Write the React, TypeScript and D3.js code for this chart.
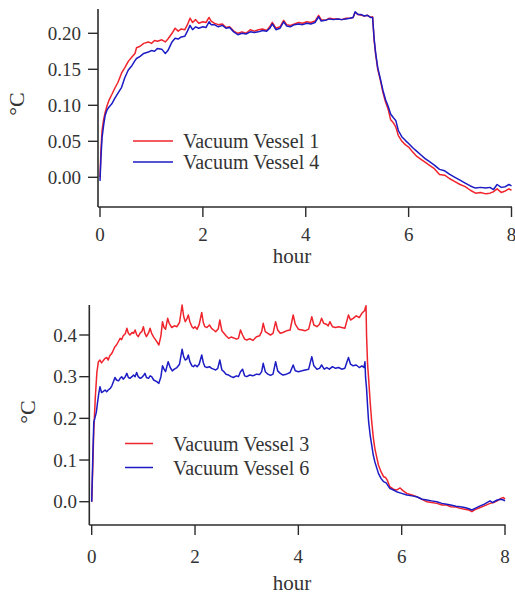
import React from "react";
import * as d3 from "d3";

// ---------- DATA ----------
const xTicks = [0, 2, 4, 6, 8];
const topYTicks = [0, 0.05, 0.1, 0.15, 0.2];
const bottomYTicks = [0, 0.1, 0.2, 0.3, 0.4];
const topLegend = ["Vacuum Vessel 1", "Vacuum Vessel 4"];
const bottomLegend = ["Vacuum Vessel 3", "Vacuum Vessel 6"];
const xLabel = "hour";
const yLabel = "°C";

// [hour, °C]
const vessel1: [number, number][] = [
  [0, 0], [0.02, 0.04], [0.04, 0.065], [0.07, 0.08], [0.1, 0.09], [0.14, 0.1], [0.18, 0.108], [0.23, 0.115],
  [0.29, 0.124], [0.35, 0.132], [0.42, 0.145], [0.48, 0.152], [0.55, 0.161], [0.62, 0.167], [0.68, 0.172],
  [0.71, 0.18], [0.78, 0.182], [0.85, 0.186], [0.94, 0.188], [1.0, 0.186], [1.06, 0.19], [1.12, 0.189],
  [1.2, 0.191], [1.27, 0.188], [1.32, 0.192], [1.4, 0.2], [1.46, 0.207], [1.52, 0.203], [1.58, 0.206],
  [1.65, 0.205], [1.7, 0.212], [1.75, 0.221], [1.8, 0.215], [1.86, 0.219], [1.92, 0.214], [2.0, 0.216],
  [2.06, 0.215], [2.12, 0.222], [2.16, 0.217], [2.22, 0.214], [2.3, 0.212], [2.38, 0.213], [2.45, 0.208],
  [2.52, 0.209], [2.6, 0.203], [2.68, 0.2], [2.76, 0.202], [2.84, 0.2], [2.92, 0.205], [3.0, 0.203],
  [3.08, 0.205], [3.16, 0.206], [3.24, 0.204], [3.3, 0.209], [3.35, 0.215], [3.42, 0.207], [3.5, 0.209],
  [3.57, 0.218], [3.63, 0.212], [3.7, 0.211], [3.78, 0.213], [3.86, 0.215], [3.94, 0.214], [4.02, 0.216],
  [4.1, 0.215], [4.18, 0.217], [4.25, 0.225], [4.3, 0.219], [4.38, 0.218], [4.46, 0.221], [4.54, 0.22],
  [4.62, 0.22], [4.7, 0.219], [4.78, 0.221], [4.86, 0.221], [4.92, 0.222], [4.96, 0.229], [5.02, 0.226],
  [5.08, 0.225], [5.14, 0.224], [5.2, 0.225], [5.26, 0.222], [5.3, 0.223], [5.33, 0.19], [5.36, 0.17],
  [5.4, 0.15], [5.45, 0.135], [5.5, 0.118], [5.55, 0.105], [5.6, 0.095], [5.65, 0.08], [5.7, 0.076],
  [5.75, 0.07], [5.8, 0.058], [5.87, 0.05], [5.94, 0.045], [6.0, 0.042], [6.08, 0.035], [6.16, 0.029],
  [6.24, 0.025], [6.32, 0.021], [6.4, 0.017], [6.5, 0.012], [6.6, 0.004], [6.7, 0.003], [6.8, -0.002],
  [6.9, -0.006], [7.0, -0.01], [7.1, -0.013], [7.2, -0.018], [7.3, -0.022], [7.4, -0.021], [7.5, -0.023],
  [7.58, -0.022], [7.65, -0.02], [7.72, -0.016], [7.8, -0.021], [7.88, -0.019], [7.95, -0.016], [8.0, -0.018],
];

const vessel4: [number, number][] = [
  [0, -0.005], [0.02, 0.03], [0.04, 0.055], [0.07, 0.072], [0.1, 0.086], [0.14, 0.094], [0.18, 0.098],
  [0.23, 0.102], [0.29, 0.11], [0.35, 0.117], [0.42, 0.125], [0.48, 0.138], [0.55, 0.149], [0.62, 0.155],
  [0.68, 0.162], [0.71, 0.165], [0.78, 0.168], [0.85, 0.172], [0.94, 0.174], [1.0, 0.176], [1.06, 0.175],
  [1.12, 0.179], [1.2, 0.178], [1.27, 0.172], [1.32, 0.176], [1.4, 0.188], [1.46, 0.193], [1.52, 0.192],
  [1.58, 0.195], [1.65, 0.196], [1.7, 0.203], [1.75, 0.211], [1.8, 0.205], [1.86, 0.209], [1.92, 0.207],
  [2.0, 0.209], [2.06, 0.208], [2.12, 0.216], [2.16, 0.212], [2.22, 0.212], [2.3, 0.209], [2.38, 0.211],
  [2.45, 0.207], [2.52, 0.208], [2.6, 0.202], [2.68, 0.198], [2.76, 0.2], [2.84, 0.199], [2.92, 0.202],
  [3.0, 0.201], [3.08, 0.202], [3.16, 0.204], [3.24, 0.203], [3.3, 0.207], [3.35, 0.213], [3.42, 0.205],
  [3.5, 0.207], [3.57, 0.216], [3.63, 0.21], [3.7, 0.209], [3.78, 0.212], [3.86, 0.213], [3.94, 0.212],
  [4.02, 0.214], [4.1, 0.213], [4.18, 0.215], [4.25, 0.223], [4.3, 0.217], [4.38, 0.218], [4.46, 0.22],
  [4.54, 0.219], [4.62, 0.22], [4.7, 0.219], [4.78, 0.22], [4.86, 0.221], [4.92, 0.222], [4.96, 0.23],
  [5.02, 0.226], [5.08, 0.226], [5.14, 0.224], [5.2, 0.225], [5.26, 0.222], [5.3, 0.222], [5.33, 0.192],
  [5.36, 0.172], [5.4, 0.152], [5.45, 0.137], [5.5, 0.121], [5.55, 0.108], [5.6, 0.099], [5.65, 0.088],
  [5.7, 0.083], [5.75, 0.079], [5.8, 0.065], [5.87, 0.056], [5.94, 0.051], [6.0, 0.047], [6.08, 0.041],
  [6.16, 0.036], [6.24, 0.031], [6.32, 0.026], [6.4, 0.022], [6.5, 0.017], [6.6, 0.011], [6.7, 0.009],
  [6.8, 0.004], [6.9, 0.0], [7.0, -0.004], [7.1, -0.008], [7.2, -0.012], [7.3, -0.015], [7.4, -0.014],
  [7.5, -0.015], [7.58, -0.014], [7.65, -0.017], [7.72, -0.01], [7.8, -0.014], [7.88, -0.013], [7.95, -0.01],
  [8.0, -0.012],
];

const vessel3: [number, number][] = [
  [0, 0], [0.02, 0.08], [0.04, 0.17], [0.07, 0.25], [0.1, 0.31], [0.13, 0.336], [0.16, 0.34], [0.19, 0.333],
  [0.22, 0.338], [0.26, 0.344], [0.29, 0.346], [0.32, 0.34], [0.35, 0.35], [0.39, 0.356], [0.42, 0.364],
  [0.45, 0.372], [0.48, 0.376], [0.52, 0.385], [0.55, 0.392], [0.58, 0.389], [0.61, 0.398], [0.65, 0.403],
  [0.68, 0.416], [0.71, 0.404], [0.74, 0.4], [0.78, 0.406], [0.81, 0.404], [0.84, 0.412], [0.87, 0.401],
  [0.9, 0.396], [0.94, 0.405], [0.97, 0.408], [1.0, 0.42], [1.03, 0.404], [1.06, 0.396], [1.1, 0.405],
  [1.13, 0.416], [1.16, 0.404], [1.2, 0.395], [1.26, 0.384], [1.3, 0.376], [1.34, 0.398], [1.37, 0.432],
  [1.4, 0.418], [1.43, 0.414], [1.47, 0.44], [1.5, 0.428], [1.55, 0.418], [1.6, 0.422], [1.65, 0.42],
  [1.7, 0.43], [1.75, 0.472], [1.78, 0.445], [1.81, 0.432], [1.84, 0.438], [1.87, 0.448], [1.9, 0.432],
  [1.94, 0.42], [1.97, 0.416], [2.0, 0.42], [2.04, 0.414], [2.08, 0.425], [2.13, 0.454], [2.16, 0.43],
  [2.19, 0.42], [2.23, 0.418], [2.28, 0.424], [2.32, 0.416], [2.36, 0.412], [2.4, 0.408], [2.45, 0.415],
  [2.48, 0.436], [2.52, 0.41], [2.56, 0.404], [2.6, 0.398], [2.65, 0.392], [2.7, 0.395], [2.75, 0.393],
  [2.8, 0.39], [2.84, 0.392], [2.88, 0.412], [2.92, 0.4], [2.96, 0.39], [3.0, 0.388], [3.06, 0.391],
  [3.12, 0.387], [3.19, 0.396], [3.25, 0.398], [3.29, 0.408], [3.32, 0.428], [3.36, 0.408], [3.41, 0.404],
  [3.46, 0.4], [3.51, 0.404], [3.56, 0.432], [3.6, 0.412], [3.65, 0.404], [3.7, 0.406], [3.77, 0.41],
  [3.84, 0.412], [3.9, 0.448], [3.94, 0.426], [4.0, 0.414], [4.07, 0.412], [4.13, 0.41], [4.2, 0.414],
  [4.26, 0.444], [4.3, 0.424], [4.36, 0.42], [4.41, 0.426], [4.45, 0.44], [4.49, 0.428], [4.54, 0.426],
  [4.58, 0.422], [4.61, 0.432], [4.66, 0.42], [4.72, 0.418], [4.78, 0.42], [4.84, 0.418], [4.9, 0.416],
  [4.97, 0.448], [5.01, 0.436], [5.06, 0.44], [5.12, 0.446], [5.18, 0.442], [5.23, 0.452], [5.28, 0.458],
  [5.31, 0.47], [5.32, 0.4], [5.34, 0.33], [5.36, 0.296], [5.39, 0.24], [5.42, 0.192], [5.45, 0.155],
  [5.48, 0.128], [5.52, 0.105], [5.55, 0.088], [5.6, 0.072], [5.65, 0.06], [5.69, 0.058], [5.72, 0.052],
  [5.77, 0.036], [5.84, 0.03], [5.9, 0.028], [5.97, 0.033], [6.03, 0.026], [6.1, 0.02], [6.2, 0.016],
  [6.29, 0.012], [6.4, 0.005], [6.49, 0.0], [6.58, -0.002], [6.68, -0.004], [6.78, -0.008], [6.87, -0.008],
  [6.95, -0.012], [7.05, -0.013], [7.13, -0.016], [7.22, -0.018], [7.3, -0.02], [7.36, -0.024], [7.42, -0.019],
  [7.52, -0.014], [7.6, -0.01], [7.71, -0.004], [7.78, -0.002], [7.85, 0.002], [7.92, 0.008], [7.97, 0.01],
  [8.0, 0.006],
];

const vessel6: [number, number][] = [
  [0, 0], [0.02, 0.1], [0.04, 0.19], [0.06, 0.2], [0.09, 0.215], [0.12, 0.245], [0.14, 0.262], [0.16, 0.276],
  [0.19, 0.262], [0.22, 0.264], [0.26, 0.268], [0.29, 0.264], [0.32, 0.268], [0.36, 0.272], [0.39, 0.278],
  [0.42, 0.288], [0.45, 0.298], [0.48, 0.292], [0.52, 0.29], [0.55, 0.296], [0.58, 0.3], [0.61, 0.294],
  [0.65, 0.3], [0.68, 0.308], [0.71, 0.298], [0.74, 0.296], [0.78, 0.3], [0.81, 0.304], [0.84, 0.3],
  [0.87, 0.31], [0.9, 0.3], [0.94, 0.296], [0.97, 0.298], [1.0, 0.302], [1.03, 0.308], [1.06, 0.298],
  [1.1, 0.296], [1.13, 0.302], [1.16, 0.3], [1.2, 0.292], [1.26, 0.288], [1.3, 0.284], [1.34, 0.3],
  [1.37, 0.326], [1.4, 0.318], [1.43, 0.312], [1.48, 0.336], [1.52, 0.322], [1.56, 0.314], [1.6, 0.318],
  [1.65, 0.322], [1.7, 0.33], [1.75, 0.366], [1.78, 0.348], [1.81, 0.34], [1.84, 0.342], [1.87, 0.352],
  [1.9, 0.336], [1.94, 0.326], [1.97, 0.324], [2.0, 0.328], [2.04, 0.324], [2.08, 0.33], [2.13, 0.352],
  [2.16, 0.334], [2.19, 0.324], [2.23, 0.322], [2.28, 0.324], [2.32, 0.32], [2.36, 0.318], [2.4, 0.316],
  [2.44, 0.32], [2.48, 0.34], [2.52, 0.316], [2.56, 0.312], [2.6, 0.306], [2.65, 0.304], [2.7, 0.3],
  [2.74, 0.298], [2.8, 0.302], [2.84, 0.3], [2.88, 0.312], [2.92, 0.318], [2.96, 0.302], [3.0, 0.3],
  [3.06, 0.304], [3.12, 0.302], [3.19, 0.306], [3.25, 0.305], [3.29, 0.312], [3.32, 0.332], [3.36, 0.312],
  [3.41, 0.306], [3.46, 0.303], [3.51, 0.306], [3.56, 0.336], [3.6, 0.314], [3.65, 0.308], [3.7, 0.304],
  [3.77, 0.306], [3.84, 0.31], [3.9, 0.328], [3.94, 0.314], [4.0, 0.312], [4.07, 0.314], [4.13, 0.316],
  [4.2, 0.318], [4.26, 0.348], [4.3, 0.326], [4.36, 0.318], [4.41, 0.32], [4.45, 0.328], [4.5, 0.318],
  [4.55, 0.322], [4.6, 0.318], [4.66, 0.324], [4.72, 0.32], [4.78, 0.322], [4.84, 0.318], [4.9, 0.32],
  [4.97, 0.346], [5.01, 0.33], [5.06, 0.326], [5.12, 0.328], [5.18, 0.322], [5.23, 0.326], [5.27, 0.322],
  [5.29, 0.336], [5.3, 0.3], [5.32, 0.272], [5.34, 0.23], [5.36, 0.192], [5.39, 0.16], [5.42, 0.136],
  [5.45, 0.112], [5.48, 0.096], [5.52, 0.08], [5.55, 0.068], [5.6, 0.056], [5.65, 0.048], [5.7, 0.045],
  [5.77, 0.032], [5.84, 0.028], [5.9, 0.024], [6.0, 0.02], [6.1, 0.016], [6.2, 0.014], [6.29, 0.012],
  [6.4, 0.006], [6.49, 0.004], [6.58, 0.002], [6.68, 0.0], [6.78, -0.004], [6.87, -0.006], [6.95, -0.008],
  [7.05, -0.011], [7.13, -0.012], [7.22, -0.014], [7.3, -0.017], [7.36, -0.02], [7.42, -0.016],
  [7.52, -0.01], [7.6, -0.006], [7.71, 0.002], [7.76, -0.002], [7.85, 0.004], [7.92, 0.006], [7.97, 0.004],
  [8.0, 0.002],
];

// ---------- STYLE ----------
const RED = "#f0242c";
const BLUE = "#1c1cc4";
const AXIS = "#2b2b2b";
const TEXT = "#333";
const FONT = "'Liberation Serif', 'Times New Roman', serif";

type PanelProps = {
  xRange: [number, number];
  axisLeft: number;
  axisTop: number;
  axisBottom: number;
  axisRight: number;
  yDomain: [number, number];
  yRange: [number, number];
  yTicks: number[];
  yFmt: (v: number) => string;
  series: { data: [number, number][]; color: string; label: string }[];
  legendX: number;
  legendY: number;
  legendLine: number;
  legendGap: number;
  legendTextDx: number;
  xLabelY: number;
  xTickLabelY: number;
  yLabelX: number;
  yLabelY: number;
  yTickLabelX: number;
};

function Panel(p: PanelProps) {
  const x = d3.scaleLinear().domain([0, 8]).range(p.xRange);
  const y = d3.scaleLinear().domain(p.yDomain).range(p.yRange);
  const line = d3
    .line<[number, number]>()
    .x((d) => x(d[0]))
    .y((d) => y(d[1]));
  const tick = 10;
  return (
    <g>
      {p.series.map((s, i) => (
        <path
          key={i}
          d={line(s.data) || ""}
          fill="none"
          stroke={s.color}
          strokeWidth={1.5}
          strokeLinejoin="round"
        />
      ))}
      {/* axes */}
      <line x1={p.axisLeft} x2={p.axisLeft} y1={p.axisTop} y2={p.axisBottom} stroke={AXIS} strokeWidth={1.6} />
      <line x1={p.axisLeft} x2={p.axisRight} y1={p.axisBottom} y2={p.axisBottom} stroke={AXIS} strokeWidth={1.6} />
      {p.yTicks.map((t) => (
        <g key={"y" + t}>
          <line x1={p.axisLeft - tick} x2={p.axisLeft} y1={y(t)} y2={y(t)} stroke={AXIS} strokeWidth={1.4} />
          <text
            x={p.yTickLabelX}
            y={y(t)}
            dy="0.35em"
            textAnchor="end"
            fontSize={19}
            fontFamily={FONT}
            fill={TEXT}
          >
            {p.yFmt(t)}
          </text>
        </g>
      ))}
      {xTicks.map((t) => (
        <g key={"x" + t}>
          <line x1={x(t)} x2={x(t)} y1={p.axisBottom} y2={p.axisBottom + tick} stroke={AXIS} strokeWidth={1.4} />
          <text x={x(t)} y={p.xTickLabelY} textAnchor="middle" fontSize={19} fontFamily={FONT} fill={TEXT}>
            {t}
          </text>
        </g>
      ))}
      <text x={292} y={p.xLabelY} textAnchor="middle" fontSize={21} fontFamily={FONT} fill={TEXT}>
        {xLabel}
      </text>
      <text
        transform={`translate(${p.yLabelX},${p.yLabelY}) rotate(-90)`}
        textAnchor="middle"
        dy="0.35em"
        fontSize={22}
        fontFamily={FONT}
        fill={TEXT}
      >
        {yLabel}
      </text>
      {p.series.map((s, i) => {
        const ly = p.legendY + i * p.legendGap;
        return (
          <g key={"l" + i}>
            <line x1={p.legendX} x2={p.legendX + p.legendLine} y1={ly} y2={ly} stroke={s.color} strokeWidth={1.5} />
            <text
              x={p.legendX + p.legendTextDx}
              y={ly}
              dy="0.36em"
              fontSize={20}
              fontFamily={FONT}
              fill={TEXT}
            >
              {s.label}
            </text>
          </g>
        );
      })}
    </g>
  );
}

export default function App() {
  return (
    <svg
      width={515}
      height={595}
      style={{ position: "absolute", left: 0, top: 0, background: "#fff" }}
    >
      <rect width={515} height={595} fill="#fff" />
      <Panel
        xRange={[100, 511.5]}
        axisLeft={98}
        axisTop={9}
        axisBottom={207}
        axisRight={512}
        yDomain={[0, 0.2]}
        yRange={[177.3, 33.3]}
        yTicks={topYTicks}
        yFmt={(v) => v.toFixed(2)}
        series={[
          { data: vessel1, color: RED, label: topLegend[0] },
          { data: vessel4, color: BLUE, label: topLegend[1] },
        ]}
        legendX={133}
        legendY={141}
        legendLine={40}
        legendGap={21}
        legendTextDx={50}
        xLabelY={263}
        xTickLabelY={241}
        yLabelX={16}
        yLabelY={104}
        yTickLabelX={81}
      />
      <Panel
        xRange={[91.7, 505]}
        axisLeft={89.3}
        axisTop={305}
        axisBottom={525}
        axisRight={505.5}
        yDomain={[0, 0.4]}
        yRange={[501.7, 335]}
        yTicks={bottomYTicks}
        yFmt={(v) => v.toFixed(1)}
        series={[
          { data: vessel3, color: RED, label: bottomLegend[0] },
          { data: vessel6, color: BLUE, label: bottomLegend[1] },
        ]}
        legendX={125}
        legendY={443.5}
        legendLine={28}
        legendGap={24}
        legendTextDx={48}
        xLabelY={590}
        xTickLabelY={563}
        yLabelX={27}
        yLabelY={412}
        yTickLabelX={77}
      />
    </svg>
  );
}
